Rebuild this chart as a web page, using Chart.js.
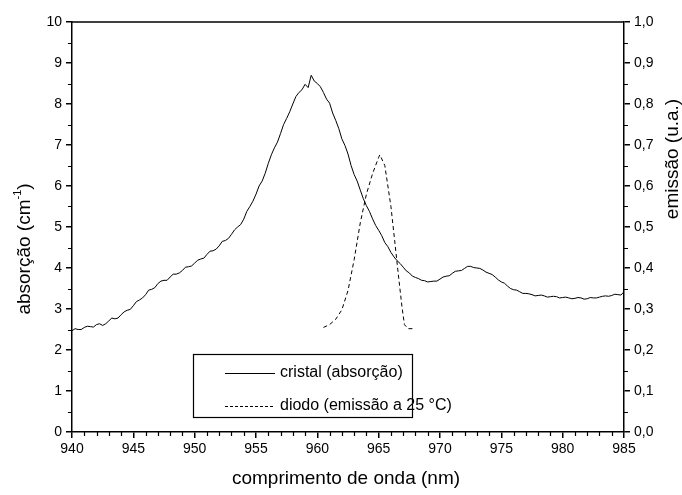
<!DOCTYPE html>
<html>
<head>
<meta charset="utf-8">
<script src="https://cdn.jsdelivr.net/npm/chart.js@4/dist/chart.umd.min.js"></script>
<style>
html,body{margin:0;padding:0;background:#fff;}
#wrap{width:682px;height:495px;}
</style>
</head>
<body>
<div id="wrap"><canvas id="c" width="682" height="495"></canvas></div>
<script>
// ---- data ----
const crystalNm = [940,940.25,940.5,940.75,941,941.25,941.5,941.75,942,942.25,942.5,942.75,943,943.25,943.5,943.75,944,944.25,944.5,944.75,945,945.25,945.5,945.75,946,946.25,946.5,946.75,947,947.25,947.5,947.75,948,948.25,948.5,948.75,949,949.25,949.5,949.75,950,950.25,950.5,950.75,951,951.25,951.5,951.75,952,952.25,952.5,952.75,953,953.25,953.5,953.75,954,954.25,954.5,954.75,955,955.25,955.5,955.75,956,956.25,956.5,956.75,957,957.25,957.5,957.75,958,958.25,958.5,958.75,959,959.25,959.5,959.75,960,960.25,960.5,960.75,961,961.25,961.5,961.75,962,962.25,962.5,962.75,963,963.25,963.5,963.75,964,964.25,964.5,964.75,965,965.25,965.5,965.75,966,966.25,966.5,966.75,967,967.25,967.5,967.75,968,968.25,968.5,968.75,969,969.25,969.5,969.75,970,970.25,970.5,970.75,971,971.25,971.5,971.75,972,972.25,972.5,972.75,973,973.25,973.5,973.75,974,974.25,974.5,974.75,975,975.25,975.5,975.75,976,976.25,976.5,976.75,977,977.25,977.5,977.75,978,978.25,978.5,978.75,979,979.25,979.5,979.75,980,980.25,980.5,980.75,981,981.25,981.5,981.75,982,982.25,982.5,982.75,983,983.25,983.5,983.75,984,984.25,984.5,984.75,985];
const crystalAbs = [2.47,2.52,2.50,2.50,2.55,2.58,2.57,2.56,2.62,2.64,2.60,2.64,2.71,2.78,2.76,2.78,2.86,2.93,2.97,2.99,3.08,3.18,3.22,3.27,3.35,3.46,3.48,3.52,3.62,3.68,3.70,3.70,3.78,3.85,3.85,3.88,3.94,4.02,4.03,4.05,4.12,4.19,4.22,4.24,4.33,4.41,4.42,4.46,4.54,4.65,4.67,4.72,4.82,4.93,5.00,5.06,5.19,5.38,5.50,5.63,5.80,6.00,6.12,6.31,6.55,6.76,6.93,7.07,7.28,7.50,7.65,7.81,8.00,8.18,8.28,8.35,8.48,8.40,8.70,8.56,8.50,8.42,8.28,8.12,8.02,7.78,7.60,7.40,7.15,6.99,6.78,6.50,6.28,6.12,5.90,5.69,5.52,5.38,5.20,5.04,4.92,4.79,4.62,4.52,4.38,4.27,4.18,4.11,4.02,3.93,3.88,3.80,3.77,3.74,3.70,3.69,3.66,3.67,3.68,3.68,3.73,3.78,3.80,3.81,3.87,3.92,3.93,3.94,3.99,4.04,4.04,4.01,4.00,3.99,3.95,3.90,3.87,3.84,3.78,3.71,3.66,3.63,3.56,3.50,3.47,3.46,3.42,3.38,3.38,3.37,3.35,3.32,3.33,3.34,3.32,3.29,3.30,3.31,3.30,3.27,3.28,3.29,3.27,3.25,3.26,3.28,3.27,3.24,3.25,3.28,3.27,3.27,3.29,3.31,3.32,3.31,3.33,3.36,3.35,3.34,3.42];
const diodeNm = [960.5,961.0,961.5,962.0,962.5,963.0,963.5,964.0,964.5,965.0,965.1,965.5,966.0,966.3,966.6,966.9,967.1,967.4,968.0];
const diodeEm = [0.255,0.262,0.275,0.298,0.345,0.420,0.510,0.580,0.630,0.670,0.676,0.650,0.550,0.468,0.385,0.305,0.262,0.252,0.252];
const xTickRange = [940, 985, 5];
const yLeftRange = [0, 10, 1];
const yRightRange = [0, 1, 0.1];
const seriesLabels = ['cristal (absorção)', 'diodo (emissão a 25 °C)'];
const titleX = 'comprimento de onda (nm)';
const titleYLeft = ['absorção (cm', '-1', ')'];
const titleYRight = 'emissão (u.a.)';

const FONT = "'Liberation Sans', Arial, sans-serif";

const toPts = (xs, ys) => xs.map((x, i) => ({x: x, y: ys[i]}));

const decorPlugin = {
  id: 'decor',
  afterDraw(chart) {
    const ctx = chart.ctx;
    const a = chart.chartArea;
    const sx = chart.scales.x, sy = chart.scales.y;
    ctx.save();
    ctx.strokeStyle = '#000';
    ctx.lineWidth = 1.5;
    // top frame line
    ctx.beginPath();
    ctx.moveTo(a.left, a.top);
    ctx.lineTo(a.right, a.top);
    ctx.stroke();
    // minor ticks
    ctx.lineWidth = 1.2;
    ctx.beginPath();
    for (let v = xTickRange[0] + 1; v < xTickRange[1]; v += 1) {
      if (v % xTickRange[2] === 0) continue;
      const px = Math.round(sx.getPixelForValue(v)) + 0.5;
      ctx.moveTo(px, a.bottom);
      ctx.lineTo(px, a.bottom + 4);
    }
    for (let v = 0.5; v < yLeftRange[1]; v += 1) {
      const py = Math.round(sy.getPixelForValue(v)) + 0.5;
      ctx.moveTo(a.left, py);
      ctx.lineTo(a.left - 4, py);
      ctx.moveTo(a.right, py);
      ctx.lineTo(a.right + 4, py);
    }
    ctx.stroke();

    // axis titles
    ctx.fillStyle = '#000';
    ctx.font = '19px ' + FONT;
    ctx.textAlign = 'center';
    ctx.textBaseline = 'middle';
    ctx.fillText(titleX, 346, 479);

    // right title
    ctx.save();
    ctx.translate(673, 159);
    ctx.rotate(-Math.PI / 2);
    ctx.fillText(titleYRight, 0, 0);
    ctx.restore();

    // left title with superscript
    ctx.save();
    ctx.translate(25, 249);
    ctx.rotate(-Math.PI / 2);
    ctx.textAlign = 'left';
    ctx.font = '19px ' + FONT;
    const w1 = ctx.measureText(titleYLeft[0]).width;
    const w3 = ctx.measureText(titleYLeft[2]).width;
    ctx.font = '11px ' + FONT;
    const w2 = ctx.measureText(titleYLeft[1]).width;
    const total = w1 + w2 + w3;
    let x0 = -total / 2;
    ctx.font = '19px ' + FONT;
    ctx.fillText(titleYLeft[0], x0, 0);
    ctx.font = '11px ' + FONT;
    ctx.fillText(titleYLeft[1], x0 + w1, -7);
    ctx.font = '19px ' + FONT;
    ctx.fillText(titleYLeft[2], x0 + w1 + w2, 0);
    ctx.restore();

    // legend box
    ctx.lineWidth = 1.2;
    ctx.strokeRect(193.5, 354.5, 219, 63);
    ctx.lineWidth = 1;
    ctx.beginPath();
    ctx.moveTo(225, 373.5);
    ctx.lineTo(275, 373.5);
    ctx.stroke();
    ctx.setLineDash([3, 2]);
    ctx.beginPath();
    ctx.moveTo(225, 406.5);
    ctx.lineTo(275, 406.5);
    ctx.stroke();
    ctx.setLineDash([]);
    ctx.font = '16px ' + FONT;
    ctx.textAlign = 'left';
    ctx.textBaseline = 'middle';
    ctx.fillText(seriesLabels[0], 280, 373);
    ctx.fillText(seriesLabels[1], 280, 406);
    ctx.restore();
  }
};

new Chart(document.getElementById('c'), {
  type: 'line',
  data: {
    datasets: [
      {
        label: seriesLabels[0],
        data: toPts(crystalNm, crystalAbs),
        yAxisID: 'y',
        borderColor: '#000',
        borderWidth: 1,
        pointRadius: 0,
        tension: 0,
        fill: false
      },
      {
        label: seriesLabels[1],
        data: toPts(diodeNm, diodeEm),
        yAxisID: 'y2',
        borderColor: '#000',
        borderWidth: 1,
        borderDash: [4, 3],
        pointRadius: 0,
        tension: 0,
        fill: false
      }
    ]
  },
  options: {
    responsive: false,
    animation: false,
    devicePixelRatio: 1,
    layout: { padding: { top: 22, left: 0, right: 0, bottom: 0 } },
    plugins: { legend: { display: false }, tooltip: { enabled: false } },
    scales: {
      x: {
        type: 'linear',
        min: xTickRange[0], max: xTickRange[1],
        ticks: { stepSize: xTickRange[2], color: '#000', font: { family: FONT, size: 14 }, padding: 3, maxRotation: 0 },
        grid: { drawOnChartArea: false, drawTicks: true, tickLength: 6, color: '#000', lineWidth: 1.5 },
        border: { display: true, color: '#000', width: 1.5 },
        afterFit(s) { s.height = 63; }
      },
      y: {
        position: 'left',
        min: yLeftRange[0], max: yLeftRange[1],
        ticks: { stepSize: yLeftRange[2], color: '#000', font: { family: FONT, size: 14 }, padding: 4 },
        grid: { drawOnChartArea: false, drawTicks: true, tickLength: 6, color: '#000', lineWidth: 1.5 },
        border: { display: true, color: '#000', width: 1.5 },
        afterFit(s) { s.width = 72; }
      },
      y2: {
        position: 'right',
        min: yRightRange[0], max: yRightRange[1],
        ticks: { stepSize: yRightRange[2], color: '#000', font: { family: FONT, size: 14 }, padding: 4,
          callback: (v) => Number(v).toFixed(1).replace('.', ',') },
        grid: { drawOnChartArea: false, drawTicks: true, tickLength: 6, color: '#000', lineWidth: 1.5 },
        border: { display: true, color: '#000', width: 1.5 },
        afterFit(s) { s.width = 58; }
      }
    }
  },
  plugins: [decorPlugin]
});
</script>
</body>
</html>
